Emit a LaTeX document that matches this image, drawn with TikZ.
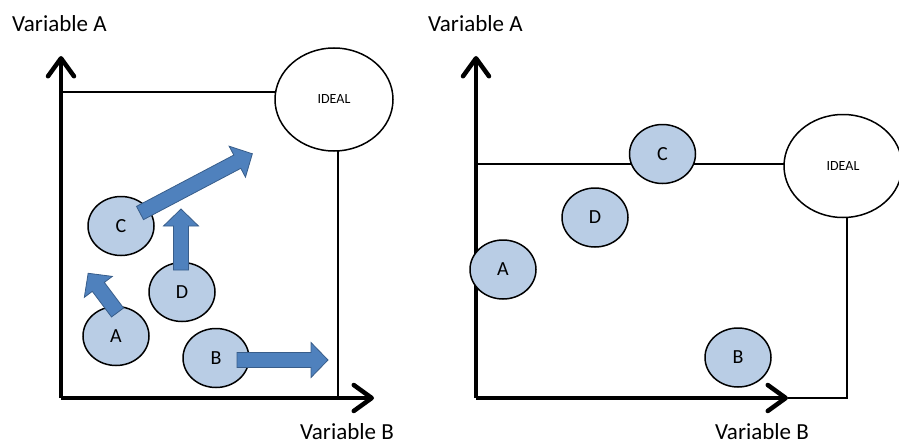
\documentclass[tikz,border=0pt]{standalone}
\usepackage{fontspec}
\setmainfont{Carlito}
\usetikzlibrary{arrows.meta,shapes.geometric}

\definecolor{itemfill}{HTML}{B9CDE5}
\definecolor{pushfill}{HTML}{4F81BD}
\definecolor{pushedge}{HTML}{385D8A}

% block arrow: tail x, tail y, angle, length
\newcommand\pusharrow[4]{%
  \draw[push, shift={(#1,#2)}, rotate=#3] (0,-7.5) -- (#4-17,-7.5) -- (#4-17,-17.5)
    -- (#4,0) -- (#4-17,17.5) -- (#4-17,7.5) -- (0,7.5) -- cycle;}

\begin{document}
\begin{tikzpicture}[x=1pt,y=-1pt,
  item/.style={ellipse, draw, line width=1.5pt, fill=itemfill, minimum width=66pt,
    minimum height=59pt, inner sep=0pt, font=\fontsize{20}{24}\selectfont},
  goal/.style={ellipse, draw, line width=1.5pt, fill=white, minimum width=118pt,
    minimum height=103pt, inner sep=0pt, font=\fontsize{14}{16}\selectfont},
  axis/.style={line width=4.5pt, -{Straight Barb[length=18pt, width=26pt, line cap=round, line join=round]}},
  frame/.style={line width=1.8pt},
  push/.style={fill=pushfill, draw=pushedge, line width=0.8pt},
  varlabel/.style={anchor=base west, inner sep=0pt, font=\fontsize{23}{27}\selectfont}]
\useasboundingbox (0,0) rectangle (899,444);

% left panel
\node[varlabel] (lLabA) at (12,32) {Variable A};
\node[varlabel] (lLabB) at (300,439) {Variable B};
\coordinate (lO) at (61,398);
\coordinate (lYtip) at (61,56);
\coordinate (lXtip) at (374,398);
\draw[frame] (61,92) -| (338,398);
\draw[axis] (lO) -- (lYtip);
\draw[axis] (lO) -- (lXtip);
\node[goal] (lIdeal) at (334,99.5) {IDEAL};
\node[item] (lC) at (121,226) {C};
\node[item] (lD) at (182,292) {D};
\node[item] (lA) at (116,336) {A};
\node[item] (lB) at (216,358) {B};
\pusharrow{140}{213}{27.8}{127}
\pusharrow{181}{270}{90}{61}
\pusharrow{117.5}{312.5}{126.8}{49}
\pusharrow{237}{360}{0}{91}

% right panel
\node[varlabel] (rLabA) at (428,32) {Variable A};
\node[varlabel] (rLabB) at (715,439) {Variable B};
\coordinate (rO) at (476,398);
\coordinate (rYtip) at (476,56);
\coordinate (rXtip) at (788,398);
\draw[frame] (476,164) -| (847,398) -- (rXtip);
\draw[axis] (rO) -- (rYtip);
\draw[axis] (rO) -- (rXtip);
\node[goal] (rIdeal) at (843,166) {IDEAL};
\node[item] (rC) at (662.5,154) {C};
\node[item] (rD) at (595,217.5) {D};
\node[item] (rA) at (503,269.5) {A};
\node[item] (rB) at (738,357.5) {B};
\end{tikzpicture}
\end{document}
